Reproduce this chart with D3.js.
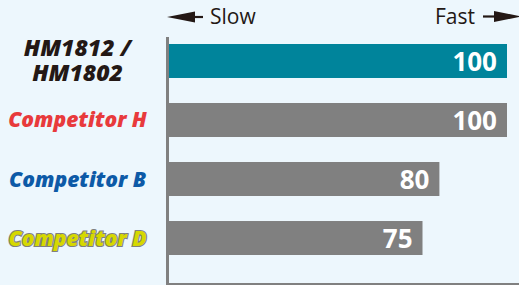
<!DOCTYPE html>
<html>
<head>
<meta charset="utf-8">
<script src="https://cdn.jsdelivr.net/npm/d3@7"></script>
<style>
  html, body { margin: 0; padding: 0; background: #edf7fd; }
  svg { display: block; }
</style>
</head>
<body>
<svg id="chart"></svg>
<script>
const categories = ['HM1812 / HM1802', 'Competitor H', 'Competitor B', 'Competitor D'];
const values = [100, 100, 80, 75];
const labelColors = ['#231815', '#e83a3c', '#0d5aa7', '#d6d800'];
const barColors = ['#00849b', '#808080', '#808080', '#808080'];

const width = 519;
const height = 285;

const svg = d3.select('#chart')
  .attr('width', width)
  .attr('height', height);

const x = d3.scaleLinear()
  .domain([0, 100])
  .range([169, 507]);

const y = d3.scaleBand()
  .domain(categories)
  .range([44, 255])
  .paddingInner(0.424)
  .paddingOuter(0);

const bh = y.bandwidth();

// bars
svg.selectAll('.bar')
  .data(values)
  .enter()
  .append('rect')
  .classed('bar', true)
  .attr('x', x(0))
  .attr('y', (d, i) => y(categories[i]))
  .attr('width', d => x(d) - x(0))
  .attr('height', bh)
  .attr('fill', (d, i) => barColors[i]);

// value labels
svg.selectAll('.value')
  .data(values)
  .enter()
  .append('text')
  .classed('value', true)
  .attr('x', d => x(d) - 10)
  .attr('y', (d, i) => y(categories[i]) + bh / 2)
  .attr('dy', '0.38em')
  .attr('text-anchor', 'end')
  .attr('font-family', 'Open Sans, sans-serif')
  .attr('font-weight', 700)
  .attr('font-size', '26px')
  .attr('fill', '#fff')
  .text(d => d);

// axis lines
svg.append('line')
  .attr('x1', 167.5).attr('x2', 167.5)
  .attr('y1', 37).attr('y2', height)
  .attr('stroke', '#808080')
  .attr('stroke-width', 3);

svg.append('line')
  .attr('x1', 166).attr('x2', width)
  .attr('y1', 284).attr('y2', 284)
  .attr('stroke', '#808080')
  .attr('stroke-width', 2);

// category labels (first one is split over two lines)
const labelLines = categories.map(d => d.includes(' / ') ? [d.split(' / ')[0] + ' /', d.split(' / ')[1]] : [d]);

categories.forEach((d, i) => {
  const lines = labelLines[i];
  const cy = y(d) + bh / 2;
  lines.forEach((line, j) => {
    const baseline = lines.length > 1 ? cy - 5 + j * 25 : cy + 7.5;
    svg.append('text')
      .classed('cat', true)
      .attr('x', 77.5)
      .attr('y', baseline)
      .attr('text-anchor', 'middle')
      .attr('font-family', 'Open Sans, sans-serif')
      .attr('font-style', 'italic')
      .attr('font-weight', 800)
      .attr('font-size', i === 0 ? '23px' : '21px')
      .attr('fill', labelColors[i])
      .attr('stroke', i === 3 ? '#808080' : 'none')
      .attr('stroke-width', 2.2)
      .attr('paint-order', 'stroke')
      .text(line);
  });
});

// Slow / Fast header
const arrow = svg.append('g').attr('fill', '#231815').attr('stroke', '#231815');

arrow.append('path')
  .attr('d', 'M167,17 L195,11.5 L195,22.5 Z')
  .attr('stroke', 'none');
arrow.append('line')
  .attr('x1', 194).attr('x2', 203).attr('y1', 17).attr('y2', 17)
  .attr('stroke-width', 2.2);

arrow.append('path')
  .attr('d', 'M521,16.5 L494,11 L494,22 Z')
  .attr('stroke', 'none');
arrow.append('line')
  .attr('x1', 483).attr('x2', 495).attr('y1', 16.5).attr('y2', 16.5)
  .attr('stroke-width', 2.2);

svg.append('text')
  .attr('x', 210)
  .attr('y', 24)
  .attr('font-family', 'Open Sans, sans-serif')
  .attr('font-size', '21px')
  .attr('fill', '#231815')
  .text('Slow');

svg.append('text')
  .attr('x', 475)
  .attr('y', 24)
  .attr('text-anchor', 'end')
  .attr('font-family', 'Open Sans, sans-serif')
  .attr('font-size', '21px')
  .attr('fill', '#231815')
  .text('Fast');
</script>
</body>
</html>
